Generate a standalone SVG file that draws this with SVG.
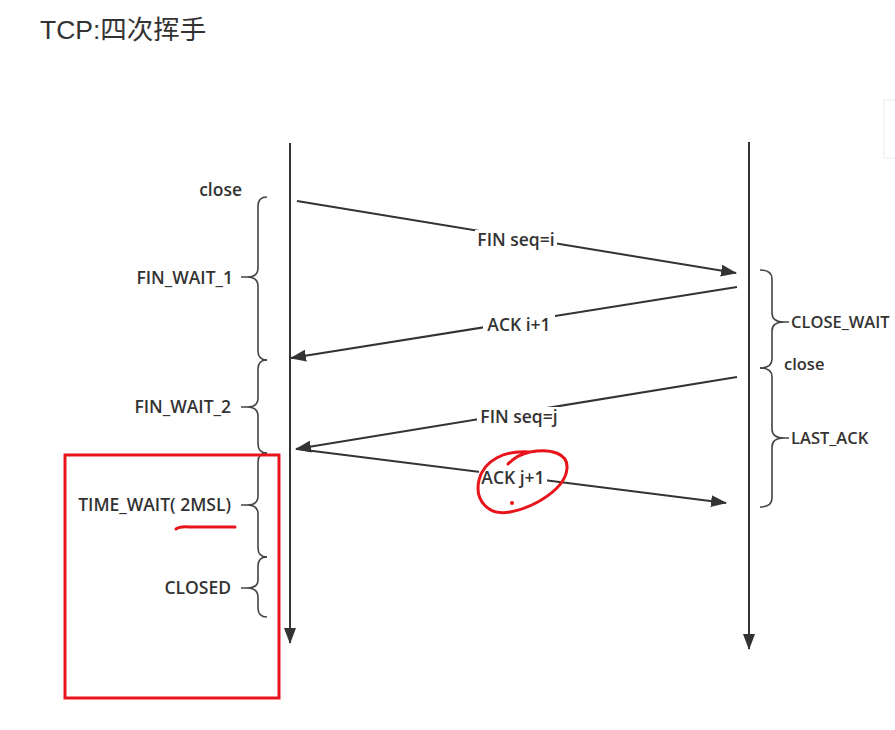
<svg xmlns="http://www.w3.org/2000/svg" width="895" height="730" viewBox="0 0 895 730">
<style>
.lbl{font-family:"Open Sans","Liberation Sans",sans-serif;font-weight:600;font-size:17.5px;fill:#333}
.rl{font-size:16.5px}
.ln{stroke:#333;stroke-width:2;fill:none}
.br{stroke:#444;stroke-width:1.6;fill:none}
.red{stroke:#e8141b;stroke-width:3;fill:none;stroke-linecap:round}
</style>
<defs>
<marker id="ah" markerWidth="16" markerHeight="12" refX="15" refY="6" orient="auto" markerUnits="userSpaceOnUse">
<path d="M0,0 L16,6 L0,12 Z" fill="#333"/>
</marker>
</defs>
<rect width="895" height="730" fill="#fff"/>
<rect x="884" y="100" width="20" height="58" fill="none" stroke="#ececec"/>
<text x="40" y="39" font-family="Liberation Sans,Noto Sans CJK SC,sans-serif" font-size="26.5" fill="#333">TCP:四次挥手</text>

<g id="lifelines">
<line class="ln" x1="290" y1="143" x2="290" y2="643" marker-end="url(#ah)"/>
<line class="ln" x1="749" y1="142" x2="749" y2="649" marker-end="url(#ah)"/>
</g>

<g id="connectors">
<line class="ln" x1="297" y1="201" x2="736" y2="273" marker-end="url(#ah)"/>
<line class="ln" x1="737" y1="287" x2="291" y2="358" marker-end="url(#ah)"/>
<line class="ln" x1="737" y1="377" x2="296" y2="449" marker-end="url(#ah)"/>
<line class="ln" x1="297" y1="449" x2="726" y2="503" marker-end="url(#ah)"/>
<rect x="475" y="230" width="82" height="20" fill="#fff"/>
<text class="lbl" x="516" y="246" text-anchor="middle">FIN seq=i</text>
<rect x="483" y="315" width="72" height="20" fill="#fff"/>
<text class="lbl" x="519" y="331" text-anchor="middle">ACK i+1</text>
<rect x="477" y="407" width="84" height="20" fill="#fff"/>
<text class="lbl" x="519" y="423" text-anchor="middle">FIN seq=j</text>
<rect x="479" y="468" width="68" height="20" fill="#fff"/>
<text class="lbl" x="513" y="484" text-anchor="middle">ACK j+1</text>
</g>

<g id="left-states">
<text class="lbl" x="242" y="196" text-anchor="end">close</text>
<path class="br" d="M267,197 Q258,197 258,206 L258,268 Q258,277 247,277 L241,277 M247,277 Q258,277 258,286 L258,351 Q258,360 267,360"/>
<text class="lbl" x="233" y="284" text-anchor="end">FIN_WAIT_1</text>
<path class="br" d="M267,360 Q258,360 258,369 L258,398 Q258,407 247,407 L241,407 M247,407 Q258,407 258,416 L258,444 Q258,453 267,453"/>
<text class="lbl" x="231" y="413" text-anchor="end">FIN_WAIT_2</text>
<path class="br" d="M267,453 Q258,453 258,462 L258,496 Q258,505 247,505 L241,505 M247,505 Q258,505 258,514 L258,548 Q258,557 267,557"/>
<text class="lbl" x="231" y="511" text-anchor="end">TIME_WAIT( 2MSL)</text>
<path class="br" d="M267,557 Q258,557 258,566 L258,580 Q258,588 247,588 L241,588 M247,588 Q258,588 258,597 L258,608 Q258,617 267,617"/>
<text class="lbl" x="231" y="594" text-anchor="end">CLOSED</text>
</g>

<g id="right-states">
<path class="br" d="M760,270 Q772,270 772,279 L772,313 Q772,322 784,322 L789,322 M784,322 Q772,322 772,331 L772,359 Q772,368 760,368"/>
<text class="lbl rl" x="791" y="328">CLOSE_WAIT</text>
<text class="lbl rl" x="784" y="370">close</text>
<path class="br" d="M760,368 Q772,368 772,377 L772,429 Q772,438 784,438 L789,438 M784,438 Q772,438 772,447 L772,498 Q772,507 760,507"/>
<text class="lbl rl" x="791" y="444">LAST_ACK</text>
</g>

<g id="annotations">
<rect x="65" y="455" width="214" height="243" fill="none" stroke="#e8141b" stroke-width="3"/>
<path class="red" d="M176,529 Q180,526 190,527 L235,527"/>
<path class="red" d="M530,452 C505,450 484,460 479,480 C474,502 490,516 510,512 C536,507 566,488 567,468 C568,454 552,448 530,452 C520,454 512,460 508,464"/>
<circle cx="512" cy="503" r="2" fill="#e8141b"/>
</g>
</svg>
